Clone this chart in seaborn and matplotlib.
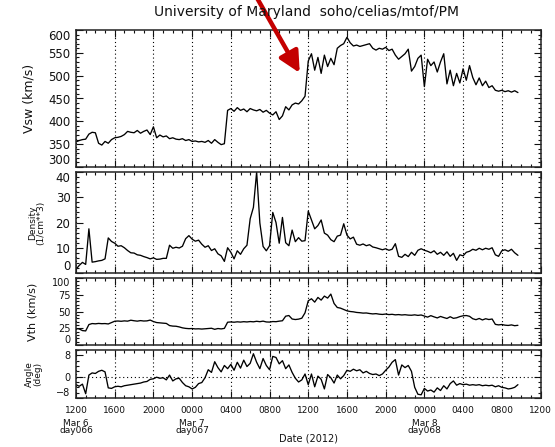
import matplotlib
matplotlib.use("Agg")
import matplotlib.pyplot as plt
import matplotlib.dates as mdates
import matplotlib.ticker as mticker
import numpy as np
import pandas as pd
import seaborn as sns

# 20-minute averages starting 2012-03-06 12:00 UT
start = pd.Timestamp("2012-03-06 12:00")
n_samples = 138

vsw = [
    355, 358, 360, 361, 372, 376, 375, 352, 348, 356,
    352, 360, 364, 365, 367, 371, 378, 376, 375, 380,
    374, 378, 381, 371, 388, 364, 370, 366, 368, 362,
    364, 361, 360, 362, 358, 360, 356, 357, 355, 356,
    354, 358, 352, 360, 354, 349, 351, 424, 428, 422,
    430, 424, 427, 421, 428, 425, 423, 426, 420, 424,
    418, 414, 421, 404, 412, 432, 425, 436, 440, 438,
    445, 455, 532, 548, 512, 540, 505, 545, 520, 538,
    524, 560, 566, 570, 584, 572, 565, 567, 564, 566,
    568, 570, 560, 556, 560, 558, 562, 555, 558, 545,
    536, 542, 548, 558, 510, 520, 538, 545, 476, 536,
    522, 530, 508, 530, 548, 482, 512, 478, 505, 484,
    515, 490, 522, 496, 480, 495, 478, 488, 474, 478,
    468, 466, 468, 465, 467, 464, 467, 463,
]

density = [
    1.5, 3.0, 4.2, 3.4, 17.5, 4.3, 4.5, 4.8, 5.0, 5.6,
    13.9, 12.5, 11.8, 10.6, 10.8, 10.0, 8.9, 8.0, 7.9, 7.2,
    7.0, 6.5, 6.1, 5.6, 6.0, 5.4, 5.5, 5.8, 5.8, 11.0,
    9.8, 10.2, 9.9, 10.6, 13.6, 14.8, 13.4, 12.6, 13.0, 11.4,
    10.2, 10.8, 8.9, 9.6, 7.6, 6.8, 4.6, 10.0, 8.2, 5.6,
    8.8, 7.4, 9.6, 11.0, 21.5, 26.0, 40.0, 19.8, 10.5, 8.8,
    10.8, 24.0, 20.0, 11.8, 22.0, 12.0, 10.8, 17.0, 12.4, 14.0,
    12.6, 12.8, 24.5, 21.0, 17.5, 18.8, 21.0, 15.8, 15.0, 13.2,
    12.4, 14.6, 15.0, 19.5, 15.0, 13.5, 14.2, 11.4, 11.0, 11.5,
    10.8, 11.2, 10.3, 10.0, 9.6, 9.2, 9.6, 9.0, 9.4, 11.6,
    6.6, 6.2, 7.4, 6.5, 8.2, 7.0, 9.0, 9.6, 9.0, 8.6,
    8.0, 8.8, 7.4, 8.2, 7.0, 8.4, 6.6, 7.8, 5.0, 7.2,
    6.8, 8.2, 8.6, 9.4, 9.0, 9.8, 9.2, 9.8, 9.4, 10.0,
    7.2, 6.6, 8.8, 9.2, 8.6, 9.4, 8.0, 7.0,
]

vth = [
    24.5, 24.0, 21.5, 21.0, 30.5, 32.0, 31.6, 32.2, 31.8, 32.0,
    31.4, 33.5, 35.5, 35.8, 35.4, 36.0, 35.6, 37.0, 36.2, 35.6,
    36.4, 35.8, 36.0, 37.2, 35.0, 33.5, 33.0, 32.6, 32.2, 29.0,
    28.2, 28.0, 27.0, 25.6, 24.8, 24.4, 24.6, 24.0, 24.2, 23.8,
    24.2, 24.6, 25.0, 23.4, 24.6, 24.0, 24.8, 34.0, 34.4, 34.0,
    34.6, 34.2, 34.8, 34.4, 35.0, 34.6, 35.4, 34.8, 35.6, 34.4,
    34.2, 35.0, 34.8, 35.6, 36.2, 43.0, 44.0, 38.8, 38.0, 38.6,
    40.0, 48.0, 66.0, 69.0, 64.0, 71.0, 67.0, 73.0, 70.0, 76.0,
    62.0, 56.0, 55.0, 53.0, 51.0, 50.0, 49.5, 48.6, 48.2, 47.6,
    47.8, 47.0, 46.4, 46.8, 46.0, 45.6, 46.2, 45.4, 45.8, 45.0,
    45.4, 44.8, 45.2, 44.6, 44.4, 45.0, 44.2, 44.8, 43.2, 41.6,
    43.8, 42.0, 40.4, 42.6, 41.0, 39.6, 42.2, 39.8, 40.6, 42.4,
    43.6, 44.0, 42.8, 39.2, 37.8, 39.6, 37.4, 39.2, 38.0, 38.8,
    30.8, 30.0, 30.6, 29.6, 29.2, 30.0, 28.8, 29.4,
]

angle = [
    -3.0, -3.6, -2.8, -6.4, 0.6, 1.4, 1.2, 2.0, 2.4, 1.8,
    -4.2, -4.4, -3.8, -3.6, -3.8, -3.4, -3.2, -3.0, -2.8, -2.6,
    -2.4, -2.0, -1.8, -1.0, -0.8, -0.2, -0.6, -0.4, -1.2, 0.6,
    -1.6, -0.8, -0.6, -2.2, -3.4, -3.8, -4.6, -4.0, -2.6, -2.2,
    -0.4, 2.6, 1.6, 5.6, 3.4, 1.8, 4.2, 3.0, 4.6, 2.4,
    5.4, 3.2, 6.2, 3.8, 5.0, 8.6, 5.4, 3.0, 6.8, 4.2,
    2.6, 7.6, 7.2, 4.8, 6.0, 3.0, 4.4, 1.6, -0.6, -2.0,
    -1.2, 1.0, -3.0, 1.0, -3.8, 0.2, -1.0, -4.6, 0.8, -0.4,
    -2.4, 0.6, -0.8, 0.4, 2.4, 2.0, 2.8, 2.2, 2.6, 1.4,
    2.0, 1.2, 0.8, 1.0, 0.4, 1.0, 2.4, 3.6, 5.4, 6.4,
    0.6, 4.4, 3.4, 4.2, 2.0, -4.0, -6.6, -6.8, -4.4, -5.4,
    -5.0, -5.8, -4.2, -5.2, -3.4, -4.6, -2.6, -1.6, -3.2, -2.6,
    -3.0, -2.8, -3.2, -3.0, -3.2, -3.0, -3.4, -3.2, -3.4, -3.2,
    -3.8, -3.4, -4.0, -4.2, -4.6, -4.4, -4.0, -3.0,
]

panel_labels = ["Vsw (km/s)", "Density\n(1/cm**3)", "Vth (km/s)", "Angle\n(deg)"]
panel_limits = [(300, 600), (0, 40), (0, 100), (-8, 10)]
major_ticks = [[300, 350, 400, 450, 500, 550, 600], [0, 10, 20, 30, 40],
               [0, 25, 50, 75, 100], [-8, 0, 8]]
minor_steps = [10, 2, 5, 2]
day_labels = ["Mar 6\nday066", "Mar 7\nday067", "Mar 8\nday068"]
day_starts = ["2012-03-06 12:00", "2012-03-07 00:00", "2012-03-08 00:00"]
title = "University of Maryland  soho/celias/mtof/PM"

df = pd.DataFrame({
    "time": pd.date_range(start, periods=n_samples, freq="20min"),
    "Vsw": vsw, "Density": density, "Vth": vth, "Angle": angle,
})
columns = ["Vsw", "Density", "Vth", "Angle"]

sns.set_theme(style="ticks")
plt.rcParams["font.family"] = ["DejaVu Sans"]
plt.rcParams["text.color"] = "#111111"
plt.rcParams["axes.labelcolor"] = "#111111"
plt.rcParams["xtick.color"] = "#111111"
plt.rcParams["ytick.color"] = "#111111"

W, H = 555, 447
fig = plt.figure(figsize=(W / 100, H / 100), dpi=100)
fig.patch.set_facecolor("white")

left_px, right_px = 76, 540.5
panel_px = [(30, 167), (172, 273), (278, 345), (350, 398)]
axes = []
for top, bottom in panel_px:
    ax = fig.add_axes([left_px / W, 1 - bottom / H, (right_px - left_px) / W,
                       (bottom - top) / H])
    axes.append(ax)

x0 = start
x1 = start + pd.Timedelta(hours=48)
ytick_sizes = [8.5, 8.5, 7, 7]
label_sizes = [9, 6.5, 8, 6.5]
label_x = [-0.088, -0.066, -0.082, -0.072]

for k, (ax, col) in enumerate(zip(axes, columns)):
    sns.lineplot(data=df, x="time", y=col, ax=ax, color="black", lw=0.95)
    ax.set_xlim(x0, x1)
    ax.set_ylim(*panel_limits[k])
    ax.yaxis.set_major_locator(mticker.FixedLocator(major_ticks[k]))
    ax.yaxis.set_minor_locator(mticker.MultipleLocator(minor_steps[k]))
    ax.xaxis.set_major_locator(mdates.HourLocator(byhour=range(0, 24, 4)))
    ax.xaxis.set_minor_locator(mdates.HourLocator())
    ax.xaxis.set_major_formatter(mdates.DateFormatter("%H%M"))
    ax.tick_params(which="both", direction="in", top=True, right=True,
                   width=0.8)
    ax.tick_params(which="major", length=5)
    ax.tick_params(which="minor", length=2.5)
    ax.tick_params(axis="y", labelsize=ytick_sizes[k], pad=4)
    ax.grid(axis="x", which="major", ls=(0, (1, 2.5)), color="black", lw=0.8)
    ax.set_xlabel("")
    ax.set_ylabel(panel_labels[k], fontsize=label_sizes[k], linespacing=0.9)
    ax.yaxis.set_label_coords(label_x[k], 0.5)
    for sp in ax.spines.values():
        sp.set_linewidth(1.1)
        sp.set_color("#222222")
    if k < 3:
        ax.tick_params(axis="x", labelbottom=False)

# keep the end labels of each panel inside its own box
for k, ax in enumerate(axes):
    ticks = ax.yaxis.get_major_ticks()
    ticks[0].label1.set_verticalalignment("bottom")
    if k < 3:
        ticks[-1].label1.set_verticalalignment("top")

bottom_ax = axes[-1]
bottom_ax.axhline(0, ls=(0, (1, 2.5)), color="black", lw=0.8)
bottom_ax.tick_params(axis="x", labelsize=6.5, pad=6)
bottom_ax.set_xlabel("Date (2012)", fontsize=7, labelpad=13)

# calendar date and day-of-year under the hour labels
sec = bottom_ax.secondary_xaxis("bottom")
sec.set_xticks([mdates.date2num(pd.Timestamp(d)) for d in day_starts],
               labels=day_labels)
sec.tick_params(axis="x", length=0, pad=15, labelsize=6.5)
for lab in sec.get_xticklabels():
    lab.set_linespacing(0.8)
sec.spines["bottom"].set_visible(False)

fig.text(306 / W, 1 - 12 / H, title, ha="center", va="center", fontsize=10)

# red pointer at the shock arrival on Mar 7
shock_tip = start + pd.Timedelta(hours=23.12)
axes[0].annotate("", xy=(shock_tip, 506), xycoords="data",
                 xytext=(257 / W, 1 + 2 / H), textcoords="figure fraction",
                 arrowprops=dict(arrowstyle="-|>,head_length=0.9,head_width=0.45",
                                 color="#c40000", lw=3.2, mutation_scale=14,
                                 shrinkA=0, shrinkB=0),
                 annotation_clip=False)

fig.savefig("out.png", dpi=100, facecolor="white")
